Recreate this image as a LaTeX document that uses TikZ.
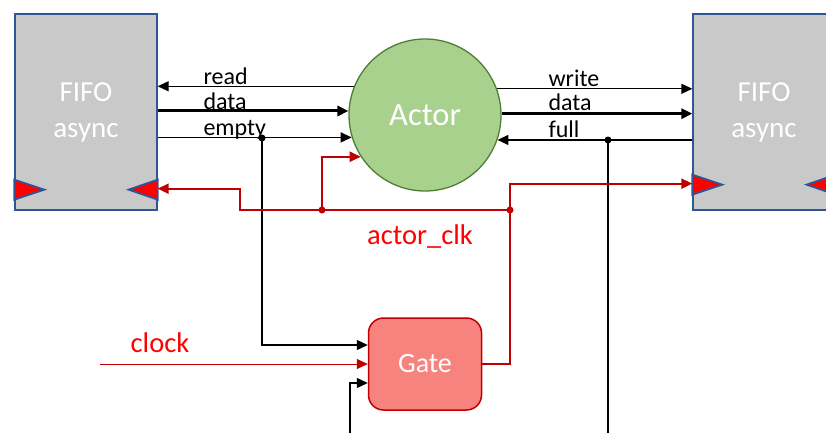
\documentclass[tikz,border=0pt]{standalone}
\usepackage{fontspec}
\setmainfont{Carlito}
\usetikzlibrary{arrows.meta}

\definecolor{fifogray}{HTML}{C9C9C9}
\definecolor{fifoblue}{HTML}{2F5597}
\definecolor{actorgreen}{HTML}{A9D18E}
\definecolor{actorline}{HTML}{507E32}
\definecolor{gatefill}{HTML}{F7837F}
\definecolor{wirered}{HTML}{C00000}
\definecolor{textred}{HTML}{FF0000}

\tikzset{
  >={Triangle[length=11pt,width=10pt]},
  fifo/.style={rectangle, draw=fifoblue, fill=fifogray, line width=1.3pt,
    minimum width=142pt, minimum height=196pt, align=center, text=white,
    font=\fontsize{29}{36}\selectfont},
  clkmark/.style={fill=red, draw=fifoblue, line width=1.8pt, line join=miter},
  wire/.style={line width=1.3pt},
  bus/.style={line width=3pt},
  redwire/.style={wirered, line width=2pt},
  sig/.style={anchor=base west, font=\fontsize{24}{26}\selectfont},
  redlabel/.style={text=textred, font=\fontsize{28.5}{30}\selectfont},
  dot/.style={circle, fill, inner sep=0pt, minimum size=7pt}
}

\begin{document}
\begin{tikzpicture}[x=1pt, y=-1pt]
\useasboundingbox (0,0) rectangle (826,432);
\clip (0,0) rectangle (826,432);

\node (fifoL) at (86,112) [fifo] {FIFO\\async};
\node (fifoR) at (764,112) [fifo] {FIFO\\async};
\node (actor) at (425,115) [circle, draw=actorline, fill=actorgreen, line width=1.3pt,
  minimum size=152pt, inner sep=0pt, text=white, font=\fontsize{32.5}{36}\selectfont] {Actor};
\node (gate) at (425,364) [rectangle, rounded corners=15pt, draw=wirered, fill=gatefill,
  line width=1.5pt, minimum width=113pt, minimum height=92pt, text=white,
  font=\fontsize{28}{30}\selectfont] {Gate};

\filldraw[clkmark] (fifoL.south west) ++(0,-31) -- ++(30,10) -- ++(-30,10) -- cycle;
\filldraw[clkmark] (fifoL.south east) ++(0,-31) -- ++(-29,10) -- ++(29,10) -- cycle;
\filldraw[clkmark] (fifoR.south west) ++(0,-36) -- ++(30,10) -- ++(-30,10) -- cycle;
\filldraw[clkmark] (fifoR.south east) ++(0,-36) -- ++(-29,10) -- ++(29,10) -- cycle;

\draw[wire,->] (actor.158.4) -- (fifoL.east |- actor.158.4);
\draw[bus,->] (fifoL.east |- actor.177.7) -- (actor.177.7);
\draw[wire,->] (fifoL.east |- actor.197.6) -- (actor.197.6);
\draw[wire,->] (actor.20) -- (fifoR.west |- actor.20);
\draw[bus,->] (actor.1.5) -- (fifoR.west |- actor.1.5);
\draw[wire,->] (fifoR.west |- actor.-19.2) -- (actor.-19.2);

\node[sig] (rdLbl) at (200,84) {read};
\node[sig] (dinLbl) at (200,109) {data};
\node[sig] (emLbl) at (200,135) {empty};
\node[sig] (wrLbl) at (545,86) {write};
\node[sig] (doutLbl) at (545,110) {data};
\node[sig] (fuLbl) at (545,137) {full};

\coordinate (emptyTap) at (262,138);
\coordinate (fullTap) at (608,140);
\coordinate (fullEnd) at (608,440);
\coordinate (ackIn) at (350,440);
\coordinate (clkIn) at (100,364);
\coordinate (tapL) at (322,210);
\coordinate (tapR) at (510,210);

\draw[wire,->] (emptyTap) |- ([yshift=19pt]gate.west);
\draw[wire,->] (ackIn) |- ([yshift=-19pt]gate.west);
\draw[wire] (fullTap) -- (fullEnd);
\node[dot] (emDot) at (emptyTap) {};
\node[dot] (fuDot) at (fullTap) {};

\draw[wirered, line width=1pt, ->] (clkIn) -- (gate.west);
\draw[redwire] (gate.east) -| (tapR);
\draw[redwire,->] (tapR) |- ([yshift=27pt]fifoR.south west);
\draw[redwire,->] (tapR) -- ++(-270,0) |- ([yshift=22pt]fifoL.south east);
\draw[redwire,->] (tapL) |- (actor.213.5);
\node[dot, wirered] (ckDotL) at (tapL) {};
\node[dot, wirered] (ckDotR) at (tapR) {};

\node[redlabel] (clkLbl) at (160,343) {clock};
\node[redlabel] (aclkLbl) at (420,237) {actor\_clk};
\end{tikzpicture}
\end{document}
